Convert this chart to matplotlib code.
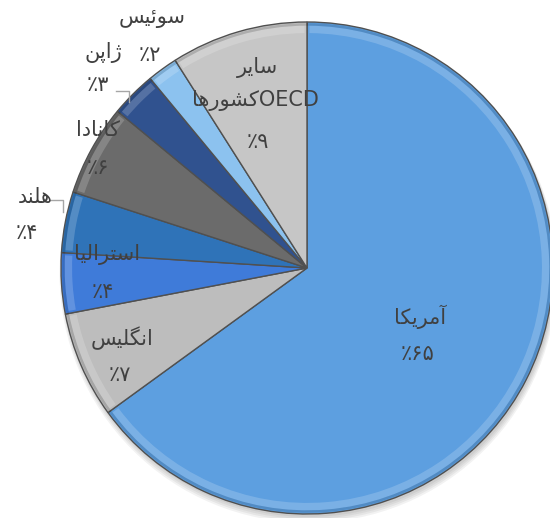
import matplotlib.pyplot as plt
from matplotlib.patches import Wedge
import numpy as np

# share of each country, clockwise from 12 o'clock
countries = ["آمریکا", "انگلیس", "استرالیا", "هلند", "کانادا", "ژاپن", "سوئیس", "سایر"]
shares = [65, 7, 4, 4, 6, 3, 2, 9]
colors = ["#5d9fe0", "#bdbdbd", "#3f7bd9", "#2f73b8", "#6b6b6b", "#30528f", "#8cc2ef", "#c6c6c6"]

# presentation forms: isolated, final, initial, medial (None = does not join forward)
FORMS = {
    "ا": ("\uFE8D", "\uFE8E", None, None),
    "آ": ("\uFE81", "\uFE82", None, None),
    "د": ("\uFEA9", "\uFEAA", None, None),
    "ر": ("\uFEAD", "\uFEAE", None, None),
    "ژ": ("\uFB8A", "\uFB8B", None, None),
    "و": ("\uFEED", "\uFEEE", None, None),
    "پ": ("\uFB56", "\uFB57", "\uFB58", "\uFB59"),
    "ت": ("\uFE95", "\uFE96", "\uFE97", "\uFE98"),
    "س": ("\uFEB1", "\uFEB2", "\uFEB3", "\uFEB4"),
    "ش": ("\uFEB5", "\uFEB6", "\uFEB7", "\uFEB8"),
    "ک": ("\uFB8E", "\uFB8F", "\uFB90", "\uFB91"),
    "گ": ("\uFB92", "\uFB93", "\uFB94", "\uFB95"),
    "ل": ("\uFEDD", "\uFEDE", "\uFEDF", "\uFEE0"),
    "م": ("\uFEE1", "\uFEE2", "\uFEE3", "\uFEE4"),
    "ن": ("\uFEE5", "\uFEE6", "\uFEE7", "\uFEE8"),
    "ه": ("\uFEE9", "\uFEEA", "\uFEEB", "\uFEEC"),
    "ی": ("\uFBFC", "\uFBFD", "\uFBFE", "\uFBFF"),
    "ئ": ("\uFE89", "\uFE8A", "\uFE8B", "\uFE8C"),
}


def fa(word):
    out = []
    for i, ch in enumerate(word):
        f = FORMS[ch]
        prev = word[i - 1] if i > 0 else None
        nxt = word[i + 1] if i + 1 < len(word) else None
        join_prev = prev is not None and FORMS[prev][2] is not None
        join_next = nxt is not None and f[2] is not None
        if join_prev and join_next:
            out.append(f[3])
        elif join_prev:
            out.append(f[1])
        elif join_next:
            out.append(f[2])
        else:
            out.append(f[0])
    return "".join(reversed(out))


def pct(v):
    digits = "".join("۰۱۲۳۴۵۶۷۸۹"[int(d)] for d in str(v))
    return "٪" + digits


fig = plt.figure(figsize=(5.5, 5.18), dpi=100)
ax = fig.add_axes([0, 0, 1, 1])

R = 246.0
cx, cy = 307.0, 268.0

# soft shadow under the pie, mostly below
for k in range(4):
    ax.add_patch(plt.Circle((0.006, -0.012 - 0.004 * k), 1.0 + 0.004 * k,
                            color="#000000", alpha=0.05, lw=0))

wedges, _ = ax.pie(shares, colors=colors, startangle=90, counterclock=False,
                   radius=1.0, wedgeprops=dict(edgecolor="#505050", linewidth=1.0))

# bevel highlight along each wedge
for w in wedges:
    t1, t2 = w.theta1, w.theta2
    ax.add_patch(Wedge((0, 0), 0.985, t1 + 0.6, t2 - 0.6, width=0.03,
                       facecolor="white", alpha=0.18, lw=0))
    ax.add_patch(Wedge((0, 0), 0.995, t1, t2, width=0.01,
                       facecolor="black", alpha=0.12, lw=0))

ax.set_xlim(-cx / R, (550 - cx) / R)
ax.set_ylim(-(518 - cy) / R, cy / R)
ax.set_aspect("auto")
ax.axis("off")


def px(x, y):
    return (x - cx) / R, (cy - y) / R


txt = dict(fontsize=15, color="#404040", ha="center", va="center", family="DejaVu Sans")

# label name / value positions in pixels
name_pos = [(420, 317), (122, 338), (107, 255), (35, 197), (98, 130), (103, 53), (152, 18), (258, 68)]
val_pos = [(418, 354), (120, 375), (103, 292), (27, 233), (98, 168), (98, 85), (150, 55), (258, 142)]

for name, v, npos, vpos in zip(countries, shares, name_pos, val_pos):
    ax.text(*px(*npos), fa(name), **txt)
    ax.text(*px(*vpos), pct(v), **txt)

ax.text(*px(255, 101), fa("کشورها") + "OECD", **txt)

# leader lines for the outside labels
for pts in ([(116, 91), (129, 91), (129, 102)], [(50, 200), (63, 200), (63, 212)]):
    xs, ys = zip(*[px(*p) for p in pts])
    ax.plot(xs, ys, color="#a6a6a6", lw=1)

plt.savefig("out.png", dpi=100)
